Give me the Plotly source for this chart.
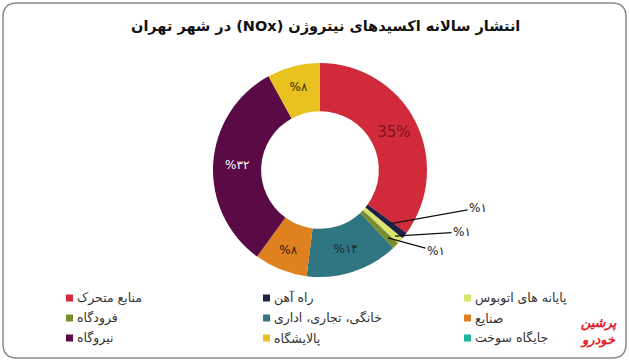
import math
import plotly.graph_objects as go

# ---- data ----
categories = ["منابع متحرک", "راه آهن", "پایانه های اتوبوس", "فرودگاه",
              "خانگی، تجاری، اداری", "صنایع", "نیروگاه", "پالایشگاه", "جایگاه سوخت"]
values = [35, 1, 1, 1, 14, 8, 32, 8, 0]
slice_text = ["35%", "", "", "", "%۱۴", "%۸", "%۳۲", "%۸", ""]
small_text = ["%۱", "%۱", "%۱"]
colors = ["#d12a3a", "#1d2244", "#d9e46c", "#7b8c2c", "#2f7682",
          "#e0811f", "#5a0b46", "#e8c21e", "#1fb1a2"]
text_colors = ["#7a1520", "#000", "#000", "#000", "#1b2b2e",
               "#2a1a0a", "#ffffff", "#3a2a00", "#000"]
text_sizes = [15, 11, 11, 11, 12, 12, 12, 12, 11]
title = "انتشار سالانه اکسیدهای نیتروژن (NOx) در شهر تهران"

W, H = 629, 361
CX, CY, R = 320, 170, 107
FONT = "DejaVu Sans, Noto Sans, sans-serif"
RLE, PDF = "\u202b", "\u202c"

fig = go.Figure()
fig.add_trace(go.Pie(
    labels=categories, values=values, text=slice_text, textinfo="text",
    textposition="inside", insidetextorientation="horizontal",
    insidetextfont=dict(color=text_colors, size=text_sizes, family=FONT),
    marker=dict(colors=colors, line=dict(width=0)),
    hole=0.55, sort=False, direction="clockwise", rotation=0,
    showlegend=False, hoverinfo="label+value",
    domain=dict(x=[(CX - R) / W, (CX + R) / W], y=[1 - (CY + R) / H, 1 - (CY - R) / H]),
))

def px(x):
    return x / W

def py(y):
    return 1 - y / H

annotations = []
# title
annotations.append(dict(x=px(325), y=py(27), xref="paper", yref="paper",
                        text="<b>" + RLE + title + PDF + "</b>",
                        xanchor="center", yanchor="middle",
                        showarrow=False, font=dict(size=14.5, family=FONT, color="#111")))

# small-slice callouts
total = sum(values)
cum = 0.0
mids = []
for v in values:
    mids.append((cum + v / 2) / total)
    cum += v
label_pos = [(478, 208), (462, 232), (436, 251)]
tip_r = [88, 100, 96]
for k, idx in enumerate([1, 2, 3]):
    th = 2 * math.pi * mids[idx]
    tx = CX + tip_r[k] * math.sin(th)
    ty = CY - tip_r[k] * math.cos(th)
    lx, ly = label_pos[k]
    annotations.append(dict(x=px(tx), y=py(ty), xref="paper", yref="paper",
                            text=small_text[k], showarrow=True, arrowhead=0, arrowwidth=1.2,
                            arrowcolor="#111", ax=lx - tx, ay=ly - ty,
                            font=dict(size=12, family=FONT, color="#222")))

# custom RTL-style legend (3 columns x 3 rows)
col_x = [66, 263, 464]
row_y = [298, 318, 338]
shapes = []
for i, (name, col) in enumerate(zip(categories, colors)):
    r, c = divmod(i, 3)
    sx, sy = col_x[c], row_y[r]
    shapes.append(dict(type="rect", xref="paper", yref="paper",
                       x0=px(sx), x1=px(sx + 7), y0=py(sy + 3.5), y1=py(sy - 3.5),
                       fillcolor=col, line=dict(width=0)))
    annotations.append(dict(x=px(sx + 9), y=py(sy), xref="paper", yref="paper",
                            text=RLE + name + PDF,
                            xanchor="left", yanchor="middle", showarrow=False,
                            font=dict(size=12.5, family=FONT, color="#333")))

# watermark
annotations.append(dict(x=px(598), y=py(331), xref="paper", yref="paper",
                        text="<b><i>پرشین<br>خودرو</i></b>", showarrow=False,
                        xanchor="center", yanchor="middle",
                        font=dict(size=13, family=FONT, color="#e3202c")))

# rounded frame
x0, x1, y0, y1, rr = 3, 626, 3, 358, 14
path = (f"M {px(x0 + rr)} {py(y0)} L {px(x1 - rr)} {py(y0)} Q {px(x1)} {py(y0)} {px(x1)} {py(y0 + rr)} "
        f"L {px(x1)} {py(y1 - rr)} Q {px(x1)} {py(y1)} {px(x1 - rr)} {py(y1)} "
        f"L {px(x0 + rr)} {py(y1)} Q {px(x0)} {py(y1)} {px(x0)} {py(y1 - rr)} "
        f"L {px(x0)} {py(y0 + rr)} Q {px(x0)} {py(y0)} {px(x0 + rr)} {py(y0)} Z")
shapes.append(dict(type="path", xref="paper", yref="paper", path=path,
                   line=dict(color="#8a8a8a", width=1.5)))

fig.update_layout(width=W, height=H, margin=dict(l=0, r=0, t=0, b=0),
                  paper_bgcolor="white", plot_bgcolor="white",
                  annotations=annotations, shapes=shapes)
fig.write_html("out.html", config={"displayModeBar": False},
               post_script="document.body.style.margin='0';document.body.style.overflow='hidden';")
